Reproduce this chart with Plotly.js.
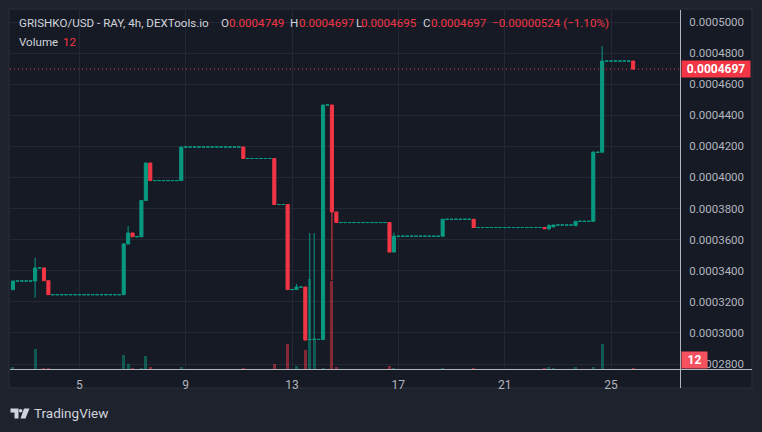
<!DOCTYPE html>
<html><head><meta charset="utf-8">
<script src="https://cdn.plot.ly/plotly-3.0.1.min.js"></script>
<style>html,body{margin:0;padding:0;background:#1e222d;}#chart{width:762px;height:432px;}</style>
</head><body><div id="chart"></div>
<script>
// 4h candles, first candle at day 2, 12:00
const startTime = Date.UTC(2024, 5, 2, 12, 0);
const FOUR_H = 4 * 3600 * 1000;

const open = [
.0003278,.0003334,.0003334,.0003334,.0003334,.0003334,.0003418,.0003418,.0003336,.0003246,
.0003246,.0003246,.0003246,.0003246,.0003246,.0003246,.0003246,.0003246,.0003246,.0003246,
.0003246,.0003246,.0003246,.0003246,.0003246,.0003246,.0003572,.0003643,.0003619,.0003619,
.0003852,.0004093,.0003980,.0003980,.0003980,.0003980,.0003980,.0003980,.0003980,.0004196,
.0004196,.0004196,.0004196,.0004196,.0004196,.0004196,.0004196,.0004196,.0004196,.0004196,
.0004196,.0004196,.0004196,.0004122,.0004122,.0004122,.0004122,.0004122,.0004122,.0004122,
.0003826,.0003826,.0003826,.0003279,.0003279,.0003295,.0003295,.0002958,.0002958,.0002958,
.0002958,.0004466,.0004466,.0003778,.0003710,.0003710,.0003710,.0003710,.0003710,.0003710,
.0003710,.0003710,.0003710,.0003710,.0003710,.0003710,.0003520,.0003622,.0003622,.0003622,
.0003622,.0003622,.0003622,.0003622,.0003622,.0003622,.0003622,.0003622,.0003731,.0003731,
.0003731,.0003731,.0003731,.0003731,.0003731,.0003678,.0003678,.0003678,.0003678,.0003678,
.0003678,.0003678,.0003678,.0003678,.0003678,.0003678,.0003678,.0003678,.0003678,.0003678,
.0003678,.0003670,.0003682,.0003694,.0003694,.0003694,.0003694,.0003690,.0003718,.0003718,
.0003718,.0003718,.0004162,.0004162,.0004749,.0004749,.0004749,.0004749,.0004749,.0004749,
.0004749];

const high = [
.0003334,.0003334,.0003334,.0003334,.0003334,.0003484,.0003418,.0003418,.0003336,.0003246,
.0003246,.0003246,.0003246,.0003246,.0003246,.0003246,.0003246,.0003246,.0003246,.0003246,
.0003246,.0003246,.0003246,.0003246,.0003246,.0003578,.0003688,.0003643,.0003619,.0003852,
.0004093,.0004093,.0003980,.0003980,.0003980,.0003980,.0003980,.0003980,.0004196,.0004196,
.0004196,.0004196,.0004196,.0004196,.0004196,.0004196,.0004196,.0004196,.0004196,.0004196,
.0004196,.0004196,.0004196,.0004122,.0004122,.0004122,.0004122,.0004122,.0004122,.0004122,
.0003826,.0003826,.0003826,.0003279,.0003315,.0003295,.0003295,.0003643,.0003643,.0002958,
.0004466,.0004466,.0004466,.0003778,.0003710,.0003710,.0003710,.0003710,.0003710,.0003710,
.0003710,.0003710,.0003710,.0003710,.0003710,.0003710,.0003645,.0003622,.0003622,.0003622,
.0003622,.0003622,.0003622,.0003622,.0003622,.0003622,.0003622,.0003731,.0003731,.0003731,
.0003731,.0003731,.0003731,.0003731,.0003731,.0003678,.0003678,.0003678,.0003678,.0003678,
.0003678,.0003678,.0003678,.0003678,.0003678,.0003678,.0003678,.0003678,.0003678,.0003678,
.0003678,.0003701,.0003694,.0003694,.0003694,.0003694,.0003694,.0003718,.0003718,.0003718,
.0003718,.0004170,.0004162,.0004846,.0004749,.0004749,.0004749,.0004749,.0004749,.0004749,
.0004749];

const low = [
.0003278,.0003334,.0003334,.0003334,.0003334,.0003227,.0003418,.0003336,.0003246,.0003246,
.0003246,.0003246,.0003246,.0003246,.0003246,.0003246,.0003246,.0003246,.0003246,.0003246,
.0003246,.0003246,.0003246,.0003246,.0003246,.0003246,.0003572,.0003619,.0003619,.0003619,
.0003852,.0003980,.0003980,.0003980,.0003980,.0003980,.0003980,.0003980,.0003980,.0004196,
.0004196,.0004196,.0004196,.0004196,.0004196,.0004196,.0004196,.0004196,.0004196,.0004196,
.0004196,.0004196,.0004122,.0004122,.0004122,.0004122,.0004122,.0004122,.0004122,.0003826,
.0003826,.0003826,.0003279,.0003279,.0003279,.0003295,.0002954,.0002958,.0002958,.0002958,
.0002958,.0004466,.0003340,.0003710,.0003710,.0003710,.0003710,.0003710,.0003710,.0003710,
.0003710,.0003710,.0003710,.0003710,.0003710,.0003520,.0003520,.0003622,.0003622,.0003622,
.0003622,.0003622,.0003622,.0003622,.0003622,.0003622,.0003622,.0003622,.0003731,.0003731,
.0003731,.0003731,.0003731,.0003731,.0003678,.0003678,.0003678,.0003678,.0003678,.0003678,
.0003678,.0003678,.0003678,.0003678,.0003678,.0003678,.0003678,.0003678,.0003678,.0003678,
.0003670,.0003662,.0003682,.0003694,.0003694,.0003694,.0003694,.0003690,.0003718,.0003718,
.0003718,.0003718,.0004162,.0004162,.0004749,.0004749,.0004749,.0004749,.0004749,.0004749,
.0004695];

const close = [
.0003334,.0003334,.0003334,.0003334,.0003334,.0003418,.0003418,.0003336,.0003246,.0003246,
.0003246,.0003246,.0003246,.0003246,.0003246,.0003246,.0003246,.0003246,.0003246,.0003246,
.0003246,.0003246,.0003246,.0003246,.0003246,.0003572,.0003643,.0003619,.0003619,.0003852,
.0004093,.0003980,.0003980,.0003980,.0003980,.0003980,.0003980,.0003980,.0004196,.0004196,
.0004196,.0004196,.0004196,.0004196,.0004196,.0004196,.0004196,.0004196,.0004196,.0004196,
.0004196,.0004196,.0004122,.0004122,.0004122,.0004122,.0004122,.0004122,.0004122,.0003826,
.0003826,.0003826,.0003279,.0003279,.0003295,.0003295,.0002954,.0002958,.0002958,.0002958,
.0004466,.0004466,.0003778,.0003710,.0003710,.0003710,.0003710,.0003710,.0003710,.0003710,
.0003710,.0003710,.0003710,.0003710,.0003710,.0003520,.0003622,.0003622,.0003622,.0003622,
.0003622,.0003622,.0003622,.0003622,.0003622,.0003622,.0003622,.0003731,.0003731,.0003731,
.0003731,.0003731,.0003731,.0003731,.0003678,.0003678,.0003678,.0003678,.0003678,.0003678,
.0003678,.0003678,.0003678,.0003678,.0003678,.0003678,.0003678,.0003678,.0003678,.0003678,
.0003670,.0003690,.0003694,.0003694,.0003694,.0003694,.0003694,.0003718,.0003718,.0003718,
.0003718,.0004162,.0004162,.0004749,.0004749,.0004749,.0004749,.0004749,.0004749,.0004749,
.0004697];

const volume = [
30,0,0,0,0,240,0,18,18,0,
0,0,0,0,0,0,0,0,0,0,
0,0,0,0,0,168,60,18,0,18,
156,30,0,0,0,0,0,0,30,0,
0,0,0,0,0,0,0,0,0,0,
0,0,12,0,0,0,0,0,0,60,
0,0,300,0,36,0,228,1080,372,0,
12,0,1056,24,0,0,0,0,0,0,
0,0,0,0,0,36,12,0,0,0,
0,0,0,0,0,0,0,12,0,0,
0,0,0,0,12,0,0,0,0,0,
0,0,0,0,0,0,0,0,0,0,
16,24,12,0,0,0,0,24,0,0,
0,24,0,300,0,0,0,0,0,0,
12];

const headerTitle = 'GRISHKO/USD - RAY, 4h, DEXTools.io';
const headerItems = [['O','0.0004749'],['H','0.0004697'],['L','0.0004695'],['C','0.0004697']];
const headerChange = '\u22120.00000524 (\u22121.10%)';
const volumeLabel = 'Volume';

const GREEN = '#089981', RED = '#f23645';
const TXT = '#d1d4dc', AX = '#b2b5be', GRID = '#242834';
const FONT = 'Roboto, "Liberation Sans", sans-serif';

const times = open.map((_, i) => startTime + i * FOUR_H);
const flat = open.map((o, i) => o === high[i] && high[i] === low[i] && low[i] === close[i]);
const pick = (arr, want) => arr.filter((_, i) => flat[i] === want);

const X = px => (px - 10) / 670;
const Y = py => (369 - py) / 359;

const volIdx = volume.map((v, i) => v > 0 ? i : -1).filter(i => i >= 0);
const volTrace = {
  type: 'bar', x: volIdx.map(i => times[i]), y: volIdx.map(i => volume[i]),
  width: FOUR_H * 0.68, yaxis: 'y', hoverinfo: 'skip',
  marker: {color: volIdx.map(i => close[i] >= open[i] ? 'rgba(8,153,129,0.5)' : 'rgba(242,54,69,0.5)'), line: {width: 0}}
};
const bodyTrace = {
  type: 'candlestick', yaxis: 'y2', x: pick(times, false),
  open: pick(open, false), high: pick(high, false), low: pick(low, false), close: pick(close, false),
  increasing: {line: {color: GREEN, width: 1}, fillcolor: GREEN},
  decreasing: {line: {color: RED, width: 1}, fillcolor: RED},
  whiskerwidth: 0, hoverinfo: 'skip'
};
const flatTrace = {
  type: 'candlestick', yaxis: 'y2', x: pick(times, true),
  open: pick(open, true), high: pick(high, true), low: pick(low, true), close: pick(close, true),
  increasing: {line: {color: GREEN, width: 1}, fillcolor: GREEN},
  decreasing: {line: {color: GREEN, width: 1}, fillcolor: GREEN},
  whiskerwidth: 0, hoverinfo: 'skip'
};

const last = close.length - 1;
const logoPath = (pts) => 'M' + pts.map(p => X(p[0]) + ',' + Y(p[1])).join(' L') + ' Z';

const shapes = [
  {type: 'rect', xref: 'paper', yref: 'paper', x0: X(9), x1: X(752), y0: Y(388), y1: Y(9),
   fillcolor: '#161a25', line: {color: '#2a2e39', width: 1}, layer: 'below'},
  {type: 'line', xref: 'paper', yref: 'paper', x0: X(680.5), x1: X(680.5), y0: Y(388), y1: Y(10),
   line: {color: AX, width: 1}},
  {type: 'line', xref: 'paper', yref: 'paper', x0: X(10), x1: X(752), y0: Y(369.5), y1: Y(369.5),
   line: {color: AX, width: 1}},
  {type: 'line', xref: 'paper', yref: 'y2', x0: 0, x1: 1, y0: close[last], y1: close[last],
   line: {color: RED, width: 1, dash: '1px,3px'}},
  // TradingView logo
  {type: 'path', xref: 'paper', yref: 'paper', path: logoPath([[10.5,408.5],[18.5,408.5],[18.5,418.5],[14.5,418.5],[14.5,412.5],[10.5,412.5]]),
   fillcolor: TXT, line: {width: 0}},
  {type: 'circle', xref: 'paper', yref: 'paper', x0: X(18.8), x1: X(22.4), y0: Y(412.6), y1: Y(409),
   fillcolor: TXT, line: {width: 0}},
  {type: 'path', xref: 'paper', yref: 'paper', path: logoPath([[24,408.5],[29.5,408.5],[25.5,418.5],[20.5,418.5]]),
   fillcolor: TXT, line: {width: 0}}
];

const HS = 11.6;
const ann = (px, py, text, color, extra) => Object.assign({
  xref: 'paper', yref: 'paper', x: X(px), y: Y(py), xanchor: 'left', yanchor: 'middle',
  text: text, showarrow: false, font: {family: FONT, size: HS, color: color}
}, extra || {});

const hx = [[219, 227], [288, 296.5], [353.5, 359], [421, 429]];
const annotations = [
  ann(17, 23, headerTitle, TXT),
  ...headerItems.flatMap((it, k) => [ann(hx[k][0], 23, it[0], TXT), ann(hx[k][1], 23, it[1], RED)]),
  ann(490, 23, headerChange, RED),
  ann(17, 41.5, volumeLabel, TXT),
  ann(61, 41.5, String(volume[last]), RED),
  ann(32, 413.5, 'TradingView', TXT, {font: {family: FONT, size: 13.5, color: TXT}}),
  {xref: 'paper', yref: 'y2', x: X(680.5), y: close[last], xanchor: 'left', yanchor: 'middle',
   text: '<b>' + close[last].toFixed(7) + '</b>', showarrow: false, bgcolor: RED, borderpad: 2,
   width: 64, height: 12, align: 'center', font: {family: FONT, size: 12, color: '#ffffff'}},
  {xref: 'paper', yref: 'paper', x: X(680.5), y: Y(369), xanchor: 'left', yanchor: 'bottom',
   text: '<b>' + volume[last] + '</b>', showarrow: false, bgcolor: '#f5515f', borderpad: 2,
   width: 21, height: 12, align: 'center', font: {family: FONT, size: 12, color: '#ffffff'}}
];

const layout = {
  width: 762, height: 432, margin: {l: 10, r: 82, t: 10, b: 63},
  paper_bgcolor: '#1e222d', plot_bgcolor: '#161a25', showlegend: false,
  boxgap: 0.3, boxgroupgap: 0, bargap: 0,
  xaxis: {type: 'date', range: [Date.UTC(2024,5,2,9,20), Date.UTC(2024,5,27,14,18)],
    rangeslider: {visible: false}, tick0: Date.UTC(2024,5,5), dtick: 4 * 86400000, tickformat: '%-d',
    showgrid: true, gridcolor: GRID, gridwidth: 1, zeroline: false, showline: false,
    ticks: 'outside', ticklen: 5, tickcolor: 'rgba(0,0,0,0)',
    tickfont: {family: FONT, size: 12, color: AX}, fixedrange: true},
  yaxis: {range: [0, 4308], visible: false, showgrid: false, fixedrange: true},
  yaxis2: {overlaying: 'y', side: 'right', range: [0.00027679, 0.00050772],
    tick0: 0.00028, dtick: 0.00002, tickformat: '.7f', showgrid: true, gridcolor: GRID, gridwidth: 1,
    zeroline: false, showline: false, ticks: 'outside', ticklen: 6, tickcolor: 'rgba(0,0,0,0)',
    tickfont: {family: FONT, size: 11.5, color: AX}, fixedrange: true},
  shapes: shapes, annotations: annotations
};

Plotly.newPlot('chart', [volTrace, bodyTrace, flatTrace], layout, {displayModeBar: false, staticPlot: true});
</script></body></html>
